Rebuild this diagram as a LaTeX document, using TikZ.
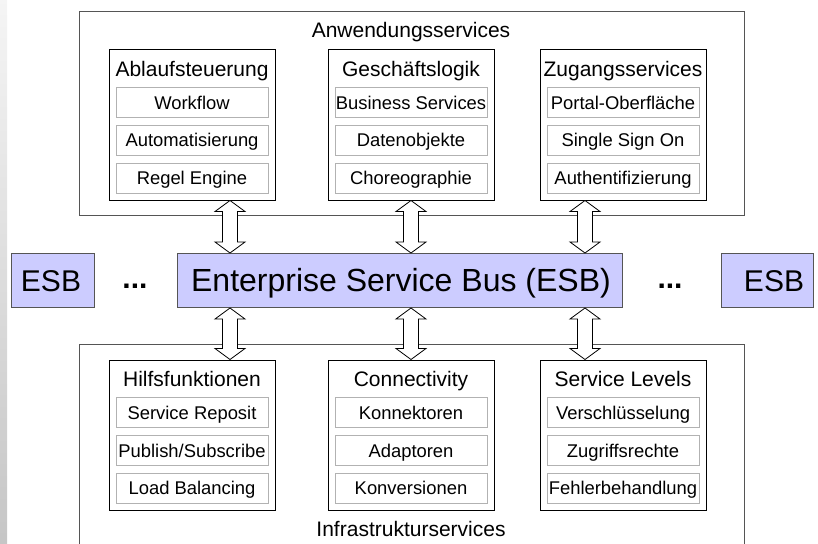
\documentclass[tikz,border=0pt]{standalone}
\usepackage{fontspec}
\setmainfont{Liberation Sans}
\usetikzlibrary{calc}
\definecolor{esbfill}{HTML}{CCCCFF}
\definecolor{frame}{HTML}{555555}
\tikzset{
  outerbox/.style={draw=frame,line width=1pt,inner sep=0pt,minimum width=665pt},
  grpbox/.style={draw=black,line width=1pt,inner sep=0pt,minimum width=166pt,minimum height=150pt},
  subbox/.style={draw=black!30,line width=1pt,inner sep=0pt,minimum width=152pt,minimum height=30pt,
    text height=13.2pt,text depth=0pt,font=\fontsize{18.4}{22}\selectfont},
  grptitle/.style={inner sep=0pt,text height=15pt,text depth=0pt,font=\fontsize{21}{25}\selectfont},
  esbbox/.style={draw=frame,fill=esbfill,line width=1pt,inner sep=0pt,minimum height=54pt},
  esbtext/.style={inner sep=0pt,text height=21.5pt,text depth=0pt,font=\fontsize{30}{36}\selectfont},
  dots/.style={inner sep=0pt,font=\bfseries\fontsize{30}{36}\selectfont},
  arr/.style={draw=black,fill=white,line width=0.8pt,line join=miter}
}
\newcommand{\dblarrow}[2]{%
  \draw[arr] let \p1=#1, \p2=#2 in
    (\x1,\y1) -- (\x1+15pt,\y1-11pt) -- (\x1+7.5pt,\y1-11pt) -- (\x1+7.5pt,\y2+11pt)
    -- (\x1+15pt,\y2+11pt) -- (\x1,\y2) -- (\x1-15pt,\y2+11pt) -- (\x1-7.5pt,\y2+11pt)
    -- (\x1-7.5pt,\y1-11pt) -- (\x1-15pt,\y1-11pt) -- cycle;}
\begin{document}
\begin{tikzpicture}[x=1pt,y=-1pt]
  \useasboundingbox (0,0) rectangle (818,543);
  \shade[top color=gray!8,bottom color=gray!45] (0,0) rectangle (7,543);

  % Anwendungsservices
  \node[outerbox,minimum height=203pt] (anw) at (411.5,113.5) {};
  \node[grptitle] (anwtitle) at (411,30) {Anwendungsservices};

  \node[grpbox] (abl) at (192,125) {};
  \node[grptitle] (abltitle) at (192,68.5) {Ablaufsteuerung};
  \node[subbox] (wf) at (192,102.5) {Workflow};
  \node[subbox] (auto) at (192,140) {Automatisierung};
  \node[subbox] (regel) at (192,178) {Regel Engine};

  \node[grpbox] (gesch) at (411,125) {};
  \node[grptitle] (geschtitle) at (411,68.5) {Geschäftslogik};
  \node[subbox] (bus) at (411,102.5) {Business Services};
  \node[subbox] (daten) at (411,140) {Datenobjekte};
  \node[subbox] (chor) at (411,178) {Choreographie};

  \node[grpbox] (zug) at (623,125) {};
  \node[grptitle] (zugtitle) at (623,68.5) {Zugangsservices};
  \node[subbox] (portal) at (623,102.5) {Portal-Oberfläche};
  \node[subbox] (sso) at (623,140) {Single Sign On};
  \node[subbox] (auth) at (623,178) {Authentifizierung};

  % Bus
  \node[esbbox,minimum width=445pt] (esb) at (399.5,280.5) {};
  \node[esbtext,text height=22.9pt,font=\fontsize{32}{38}\selectfont] (esbtitle) at (401,280.5) {Enterprise Service Bus (ESB)};
  \node[esbbox,minimum width=83pt] (esbl) at (52.5,280.5) {};
  \node[esbtext] (esbltext) at (51,280.5) {ESB};
  \node[esbbox,minimum width=92pt] (esbr) at (767,280.5) {};
  \node[esbtext] (esbrtext) at (774,280.5) {ESB};
  \node[dots] (dotsl) at (135,286) {...};
  \node[dots] (dotsr) at (670,286) {...};

  % Infrastrukturservices
  \node[outerbox,minimum height=216pt] (infra) at (411.5,452) {};
  \node[grptitle] (infratitle) at (411,529) {Infrastrukturservices};

  \node[grpbox] (hilf) at (192,435) {};
  \node[grptitle] (hilftitle) at (192,378.5) {Hilfsfunktionen};
  \node[subbox] (repo) at (192,412.5) {Service Reposit};
  \node[subbox] (pubsub) at (192,450.5) {Publish/Subscribe};
  \node[subbox] (load) at (192,488) {Load Balancing};

  \node[grpbox] (conn) at (411,435) {};
  \node[grptitle] (conntitle) at (411,378.5) {Connectivity};
  \node[subbox] (konn) at (411,412.5) {Konnektoren};
  \node[subbox] (adapt) at (411,450.5) {Adaptoren};
  \node[subbox] (konv) at (411,488) {Konversionen};

  \node[grpbox] (slev) at (623,435) {};
  \node[grptitle] (slevtitle) at (623,378.5) {Service Levels};
  \node[subbox] (versch) at (623,412.5) {Verschlüsselung};
  \node[subbox] (zugriff) at (623,450.5) {Zugriffsrechte};
  \node[subbox] (fehler) at (623,488) {Fehlerbehandlung};

  % arrows
  \coordinate (ax1) at (230,0);
  \coordinate (ax2) at (411,0);
  \coordinate (ax3) at (585,0);
  \dblarrow{(ax1 |- abl.south)}{(ax1 |- esb.north)}
  \dblarrow{(ax2 |- gesch.south)}{(ax2 |- esb.north)}
  \dblarrow{(ax3 |- zug.south)}{(ax3 |- esb.north)}
  \dblarrow{(ax1 |- esb.south)}{(ax1 |- hilf.north)}
  \dblarrow{(ax2 |- esb.south)}{(ax2 |- conn.north)}
  \dblarrow{(ax3 |- esb.south)}{(ax3 |- slev.north)}
\end{tikzpicture}
\end{document}
